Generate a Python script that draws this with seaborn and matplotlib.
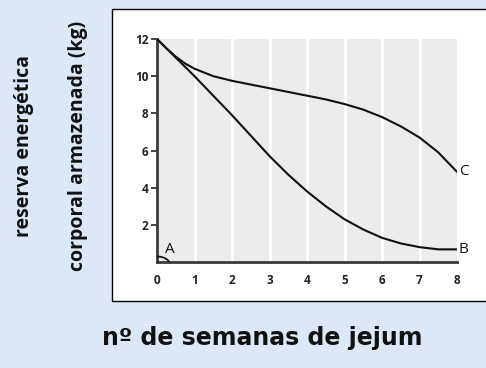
import numpy as np
import pandas as pd
import matplotlib.pyplot as plt
from matplotlib.patches import Rectangle
import seaborn as sns

# === Data ===
weeks = [0, 0.25, 0.5, 0.75, 1, 1.5, 2, 2.5, 3, 3.5, 4, 4.5, 5, 5.5, 6, 6.5, 7, 7.5, 8]
curve_b = [12, 11.5, 11.0, 10.5, 10.0, 8.95, 7.9, 6.8, 5.7, 4.7, 3.8, 3.0, 2.3, 1.75, 1.3,
           1.0, 0.8, 0.68, 0.68]
curve_c = [12, 11.5, 11.05, 10.68, 10.4, 10.0, 9.75, 9.55, 9.35, 9.15, 8.95, 8.75, 8.5, 8.2,
           7.8, 7.3, 6.7, 5.9, 4.85]
weeks_a = [0, 0.1, 0.2, 0.28, 0.33]
curve_a = [0.3, 0.28, 0.22, 0.12, 0]

x_ticks = [0, 1, 2, 3, 4, 5, 6, 7, 8]
y_ticks = [2, 4, 6, 8, 10, 12]

df = pd.DataFrame({"week": weeks, "B": curve_b, "C": curve_c})

sns.set_style("white")
plt.rcParams["font.family"] = ["Open Sans", "DejaVu Sans"]

fig = plt.figure(figsize=(4.86, 3.68), dpi=100)
fig.patch.set_facecolor("#dde8f6")

W, H = 486, 368
# white framed panel
fig.patches.append(Rectangle((112 / W, 1 - 301 / H), 400 / W, 292 / H,
                             transform=fig.transFigure, facecolor="white",
                             edgecolor="black", linewidth=1.0, zorder=-5))

ax = fig.add_axes([157 / W, 1 - 262 / H, 300 / W, 223 / H])
ax.set_zorder(2)
ax.set_facecolor("none")
ax.axvspan(0, 8, ymin=0, ymax=1, color="#ececee", zorder=0, lw=0)
for xv in x_ticks[1:-1]:
    ax.axvline(xv, color="white", lw=1.8, zorder=1)

sns.lineplot(data=df, x="week", y="B", ax=ax, color="#111111", lw=1.5, zorder=3)
sns.lineplot(data=df, x="week", y="C", ax=ax, color="#111111", lw=1.5, zorder=3)
sns.lineplot(x=weeks_a, y=curve_a, ax=ax, color="#111111", lw=1.3, zorder=3)

ax.text(8.05, curve_c[-1], "C", fontsize=11, va="center", ha="left", color="#111111")
ax.text(8.05, curve_b[-1], "B", fontsize=11, va="center", ha="left", color="#111111")
ax.text(0.22, 0.65, "A", fontsize=11, va="center", ha="left", color="#111111")

ax.set_xlim(0, 8)
ax.set_ylim(0, 12)
ax.set_xticks(x_ticks)
ax.set_yticks(y_ticks)
ax.tick_params(axis="both", labelsize=8.5, colors="#222222", pad=2)
ax.tick_params(axis="y", left=True, length=4, width=1.2)
ax.tick_params(axis="x", bottom=False, pad=5)
for lab in ax.get_xticklabels() + ax.get_yticklabels():
    lab.set_fontweight("bold")
ax.set_xlabel("")
ax.set_ylabel("")
for s in ["top", "right"]:
    ax.spines[s].set_visible(False)
for s in ["left", "bottom"]:
    ax.spines[s].set_color("#3a3a3a")
    ax.spines[s].set_linewidth(2)

fig.text(24 / W, 1 - 146 / H, "reserva energética", rotation=90, ha="center", va="center",
         fontsize=14, fontweight="bold", family=["Open Sans", "DejaVu Sans"], color="#111111")
fig.text(78 / W, 1 - 146 / H, "corporal armazenada (kg)", rotation=90, ha="center", va="center",
         fontsize=14, fontweight="bold", family=["Open Sans", "DejaVu Sans"], color="#111111")
fig.text(262 / W, 1 - 338 / H, "nº de semanas de jejum", ha="center", va="center",
         fontsize=17, fontweight="bold", family=["DejaVu Sans"], color="#111111")

fig.savefig("out.png", dpi=100, facecolor=fig.get_facecolor())
